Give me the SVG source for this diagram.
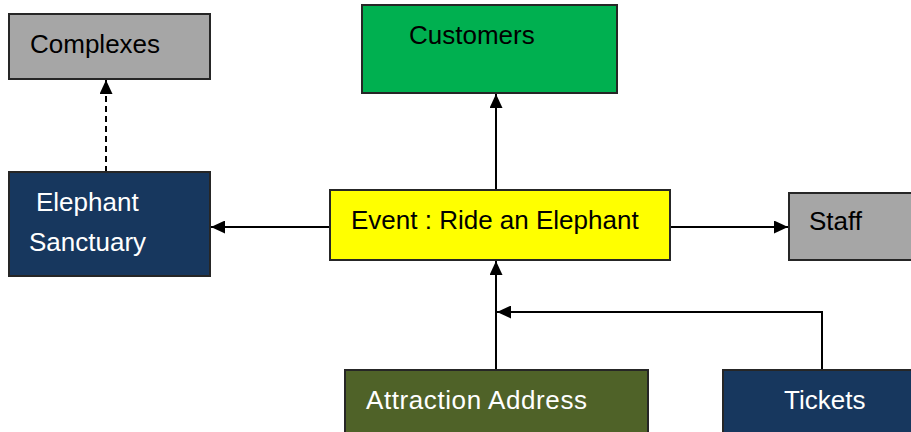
<svg xmlns="http://www.w3.org/2000/svg" width="911" height="432" viewBox="0 0 911 432">
<style>
.box{stroke:#262626;stroke-width:2}
.gray{fill:#a6a6a6}
.green{fill:#00b050}
.navy{fill:#17375e}
.yellow{fill:#ffff00}
.olive{fill:#4f6228}
text{font-family:"Liberation Sans",Arial,sans-serif;font-size:26px}
.dark{fill:#000}
.light{fill:#fff}
.conn{stroke:#000;stroke-width:2;fill:none}
.dash{stroke-dasharray:6,4}
</style>
<defs>
<marker id="arr" viewBox="0 0 14 14" refX="14" refY="7" markerWidth="14" markerHeight="13" markerUnits="userSpaceOnUse" orient="auto" preserveAspectRatio="none">
<path d="M0,0 L14,7 L0,14 Z" fill="#000"/>
</marker>
</defs>
<g id="connectors">
<path class="conn dash" d="M106,172 V80" marker-end="url(#arr)"/>
<path class="conn" d="M496,190 V94" marker-end="url(#arr)"/>
<path class="conn" d="M330,227 H211" marker-end="url(#arr)"/>
<path class="conn" d="M670,227 H788" marker-end="url(#arr)"/>
<path class="conn" d="M496,370 V261" marker-end="url(#arr)"/>
<path class="conn" d="M822,370 V312 H497" marker-end="url(#arr)"/>
</g>
<g id="complexes">
<rect class="box gray" x="9" y="14" width="201" height="65"/>
<text class="dark" x="30" y="53">Complexes</text>
</g>
<g id="customers">
<rect class="box green" x="362" y="5" width="255" height="88"/>
<text class="dark" x="409" y="44">Customers</text>
</g>
<g id="sanctuary">
<rect class="box navy" x="9" y="172" width="201" height="104"/>
<text class="light" x="36" y="211">Elephant</text>
<text class="light" x="29" y="251">Sanctuary</text>
</g>
<g id="event">
<rect class="box yellow" x="330" y="190" width="340" height="70"/>
<text class="dark" x="351" y="229">Event : Ride an Elephant</text>
</g>
<g id="staff">
<rect class="box gray" x="789" y="193" width="130" height="67"/>
<text class="dark" x="809" y="230">Staff</text>
</g>
<g id="attraction">
<rect class="box olive" x="345" y="370" width="303" height="70"/>
<text class="light" x="366" y="409" textLength="221" lengthAdjust="spacing">Attraction Address</text>
</g>
<g id="tickets">
<rect class="box navy" x="723" y="370" width="200" height="70"/>
<text class="light" x="784" y="409">Tickets</text>
</g>
</svg>
